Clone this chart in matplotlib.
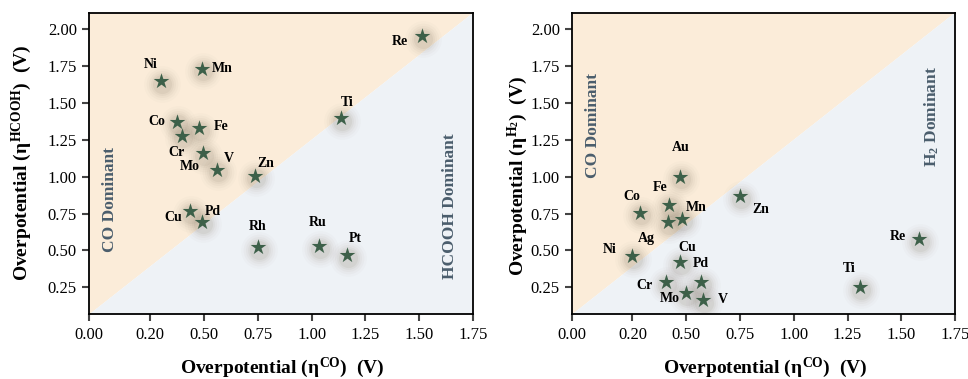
import matplotlib
matplotlib.use("Agg")
import matplotlib.pyplot as plt
import matplotlib.transforms as mtransforms

plt.rcParams['font.family'] = ['Liberation Serif', 'DejaVu Serif']
plt.rcParams['mathtext.fontset'] = 'custom'
plt.rcParams['mathtext.rm'] = 'Liberation Serif:bold'
plt.rcParams['mathtext.it'] = 'Liberation Serif:bold'
plt.rcParams['mathtext.bf'] = 'Liberation Serif:bold'

# left panel: CO vs HCOOH
metals_a = ['Re', 'Ni', 'Mn', 'Ti', 'Co', 'Fe', 'Cr', 'Mo', 'V', 'Zn', 'Cu', 'Pd', 'Rh', 'Ru', 'Pt']
eta_co_a = [1.514, 0.301, 0.493, 1.135, 0.375, 0.477, 0.400, 0.499, 0.562, 0.740, 0.436, 0.491, 0.750, 1.036, 1.163]
eta_hcooh = [1.953, 1.649, 1.732, 1.397, 1.374, 1.329, 1.277, 1.160, 1.047, 1.007, 0.766, 0.696, 0.522, 0.529, 0.466]
# label offsets in pixels (dx, dy down)
off_a = [(-23, 5), (-10, -17), (20, 0), (7, -16), (-20, 0), (22, -2), (-6, 17), (-14, 13),
         (12, -11), (10, -12), (-17, 6), (11, -10), (0, -21), (-2, -24), (9, -17)]

# right panel: CO vs H2
metals_b = ['Au', 'Fe', 'Co', 'Mn', 'Ag', 'Zn', 'Ni', 'Cu', 'Pd', 'Cr', 'Mo', 'V', 'Re', 'Ti']
eta_co_b = [0.473, 0.422, 0.284, 0.478, 0.416, 0.749, 0.248, 0.470, 0.568, 0.405, 0.497, 0.577, 1.582, 1.308]
eta_h2 = [1.000, 0.809, 0.757, 0.714, 0.691, 0.867, 0.461, 0.419, 0.286, 0.286, 0.211, 0.162, 0.576, 0.252]
off_b = [(0, -29), (-9, -17), (-8, -16), (15, -11), (-22, 16), (21, 13), (-22, -7), (7, -15),
         (0, -19), (-21, 3), (-16, 5), (20, -1), (-21, -3), (-11, -19)]

xtick_pos = [-0.03, 0.25, 0.50, 0.75, 1.00, 1.25, 1.50, 1.75]
xtick_lbl = ['0.00', '0.20', '0.50', '0.75', '1.00', '1.25', '1.50', '1.75']
ytick_pos = [0.25, 0.50, 0.75, 1.00, 1.25, 1.50, 1.75, 2.00]

orange = '#fbecd9'
blue = '#eef2f6'
star_c = '#3d6049'
region_c = '#4a5d6c'

fig = plt.figure(figsize=(9.68, 3.79), dpi=100)
ax1 = fig.add_axes([0.0923, 0.1707, 0.3967, 0.7958])
ax2 = fig.add_axes([0.5912, 0.1707, 0.3954, 0.7958])


def panel(ax, xs, ys, names, offs, ylab, ylab_x, ylab_y, right_txt, right_y, left_y):
    ax.fill([0, 1, 0], [0, 1, 1], color=orange, transform=ax.transAxes, zorder=0, lw=0)
    ax.fill([0, 1, 1], [0, 1, 0], color=blue, transform=ax.transAxes, zorder=0, lw=0)
    # soft shadow under stars
    tr = mtransforms.offset_copy(ax.transData, fig=fig, x=1.0, y=-2.5, units='dots')
    for sz, al in [(700, 0.025), (520, 0.035), (380, 0.045), (270, 0.06), (190, 0.08)]:
        ax.scatter(xs, ys, s=sz, marker='o', color='#7a6e5c', alpha=al, lw=0,
                   transform=tr, zorder=2)
    ax.scatter(xs, ys, s=140, marker='*', color=star_c, lw=0, zorder=3)
    for x, y, n, (dx, dy) in zip(xs, ys, names, offs):
        ax.annotate(n, (x, y), xytext=(dx, -dy), textcoords='offset pixels',
                    ha='center', va='center', fontsize=10, fontweight='bold', zorder=4)
    ax.set_xlim(-0.03, 1.75)
    ax.set_ylim(0.067, 2.113)
    ax.set_xticks(xtick_pos)
    ax.set_xticklabels(xtick_lbl)
    ax.set_yticks(ytick_pos)
    ax.set_yticklabels(['%.2f' % v for v in ytick_pos])
    ax.tick_params(direction='out', length=5, width=1.5, color='#444444',
                   labelsize=12, pad=4)
    for sp in ax.spines.values():
        sp.set_linewidth(1.3)
        sp.set_color('black')
    ax.set_xlabel(r'Overpotential ($\eta^{\mathrm{CO}}$)  (V)', fontsize=14,
                  fontweight='bold', va='center')
    ax.xaxis.set_label_coords(0.503, -0.178)
    ax.set_ylabel(ylab, fontsize=14, fontweight='bold', va='center')
    ax.yaxis.set_label_coords(ylab_x, ylab_y)
    ax.text(0.053, left_y, 'CO Dominant', transform=ax.transAxes, rotation=90,
            ha='center', va='center', fontsize=12.5, fontweight='bold', color=region_c)
    ax.text(0.94, right_y, right_txt, transform=ax.transAxes, rotation=90,
            ha='center', va='center', fontsize=12.5, fontweight='bold', color=region_c)


panel(ax1, eta_co_a, eta_hcooh, metals_a, off_a,
      r'Overpotential ($\eta^{\mathrm{HCOOH}}$)  (V)', -0.175, 0.503,
      'HCOOH Dominant', 0.36, 0.38)
panel(ax2, eta_co_b, eta_h2, metals_b, off_b,
      r'Overpotential ($\eta^{\mathrm{H_2}}$)  (V)', -0.141, 0.459,
      r'$\mathrm{H_2}$ Dominant', 0.655, 0.625)

fig.savefig('out.png', dpi=100)
